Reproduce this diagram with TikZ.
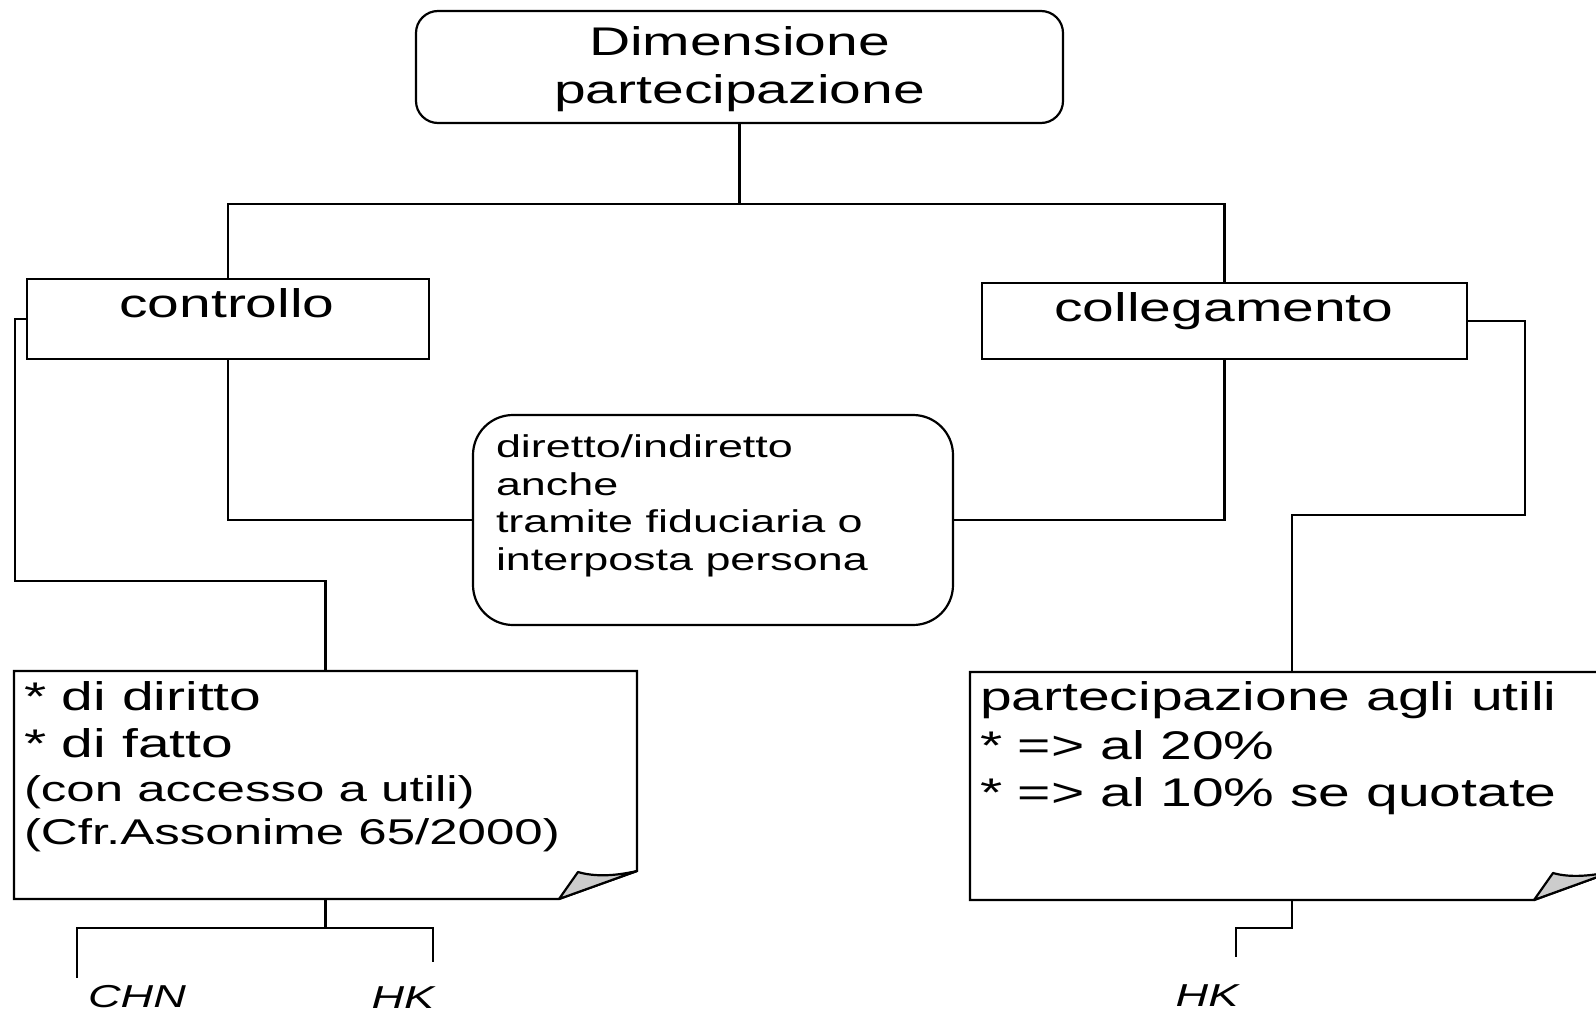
\documentclass[tikz,border=0pt]{standalone}
\usepackage{fontspec}
\setmainfont{Liberation Sans}[FakeStretch=1.425]
\usetikzlibrary{calc}
\begin{document}
\begin{tikzpicture}[x=1pt,y=-1pt,
  every node/.style={inner sep=0pt, outer sep=0pt},
  frame/.style={draw, line width=2.2pt},
  link/.style={draw, line width=2.2pt},
  fold/.style={draw, line width=2.2pt, fill=gray!40, line join=round},
  big/.style={font=\fontsize{40}{48}\selectfont},
  mid/.style={font=\fontsize{35.8}{43}\selectfont},
  small/.style={font=\fontsize{31.5}{38}\selectfont},
  tag/.style={font=\fontsize{31.7}{38}\selectfont\itshape},
]
\path[use as bounding box] (0,0) rectangle (1596,1014);
\clip (0,0) rectangle (1596,1014);

% main boxes
\node[frame, rounded corners=22pt, minimum width=647pt, minimum height=112pt] (top) at (739.5,67) {};
\node[frame, minimum width=402pt, minimum height=80pt] (ctrl) at (228,319) {};
\node[frame, minimum width=485pt, minimum height=76pt] (coll) at (1224.5,321) {};
\node[frame, rounded corners=40pt, minimum width=480pt, minimum height=210pt] (mid) at (713,520) {};

% note boxes (outline drawn separately with a folded corner)
\node[minimum width=623pt, minimum height=228pt] (lnote) at (325.5,785) {};
\node[minimum width=644pt, minimum height=228pt] (rnote) at (1292,786) {};

\draw[frame, fill=white] (lnote.north west) -- (lnote.north east)
  -- ([yshift=28pt]lnote.south east) -- ([xshift=-78pt]lnote.south east)
  -- (lnote.south west) -- cycle;
\draw[fold] ([xshift=-78pt]lnote.south east) -- ([xshift=-59pt,yshift=27pt]lnote.south east)
  .. controls ([xshift=-42pt,yshift=22pt]lnote.south east) and ([xshift=-22pt,yshift=23pt]lnote.south east)
  .. ([yshift=28pt]lnote.south east) -- cycle;

\draw[frame, fill=white] (rnote.north west) -- (rnote.north east)
  -- ([yshift=29pt]rnote.south east) -- ([xshift=-80pt]rnote.south east)
  -- (rnote.south west) -- cycle;
\draw[fold] ([xshift=-80pt]rnote.south east) -- ([xshift=-61pt,yshift=27pt]rnote.south east)
  .. controls ([xshift=-44pt,yshift=22pt]rnote.south east) and ([xshift=-22pt,yshift=24pt]rnote.south east)
  .. ([yshift=29pt]rnote.south east) -- cycle;

% connectors
\coordinate (split) at (739.5,204);
\draw[link] (top.south) -- (split);
\draw[link] (split) -| (ctrl.north);
\draw[link] (split) -| (coll.north);
\draw[link] (ctrl.south) |- (mid.west);
\draw[link] (coll.south) |- (mid.east);

\coordinate (lbend) at (15,581);
\draw[link] (ctrl.west) -| (lbend) -| (lnote.north);
\coordinate (rbend) at (1525,515);
\draw[link] (coll.east) -| (rbend) -| (rnote.north);

\coordinate (lfork) at (325.5,928);
\coordinate (chnEnd) at (77,978);
\coordinate (hkEnd) at (433,962);
\draw[link] (lnote.south) -- (lfork);
\draw[link] (lfork) -| (chnEnd);
\draw[link] (lfork) -| (hkEnd);

\coordinate (rfork) at (1292,928);
\coordinate (hkrEnd) at (1236,957);
\draw[link] (rnote.south) -- (rfork) -| (hkrEnd);

% texts
\node[big, anchor=base] (t1) at (739.5,56) {Dimensione};
\node[big, anchor=base] (t2) at (739.5,104) {partecipazione};
\node[big, anchor=base] (tctrl) at (227,317) {controllo};
\node[big, anchor=base] (tcoll) at (1224,321) {collegamento};

\node[small, anchor=base west] (m1) at (496,457) {diretto/indiretto};
\node[small, anchor=base west] (m2) at (496,495) {anche};
\node[small, anchor=base west] (m3) at (496,532) {tramite fiduciaria o};
\node[small, anchor=base west] (m4) at (496,570) {interposta persona};

\node[big, anchor=base west] (l1) at (24,710) {* di diritto};
\node[big, anchor=base west] (l2) at (24,757) {* di fatto};
\node[mid, anchor=base west] (l3) at (24,801) {(con accesso a utili)};
\node[mid, anchor=base west] (l4) at (24,844) {(Cfr.Assonime 65/2000)};

\node[big, anchor=base west] (r1) at (980,710) {partecipazione agli utili};
\node[big, anchor=base west] (r2) at (980,759) {* => al 20\%};
\node[big, anchor=base west] (r3) at (980,806) {* => al 10\% se quotate};

\node[tag, anchor=base] (chn) at (137,1007) {CHN};
\node[tag, anchor=base] (hkl) at (403,1008) {HK};
\node[tag, anchor=base] (hkr) at (1207,1006) {HK};
\end{tikzpicture}
\end{document}
